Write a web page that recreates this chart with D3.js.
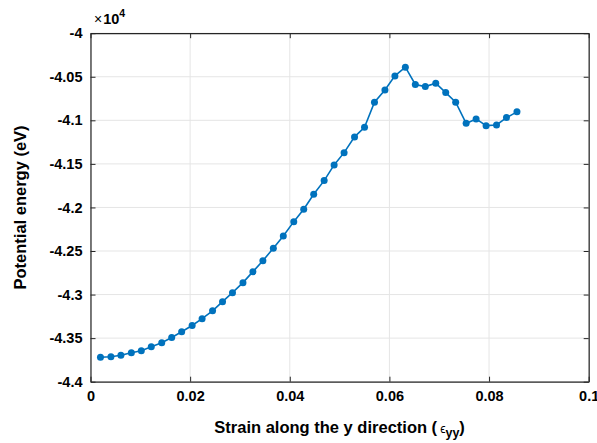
<!DOCTYPE html>
<html><head><meta charset="utf-8">
<script src="https://cdn.jsdelivr.net/npm/d3@7"></script>
<style>body{margin:0;background:#fff}svg{display:block}text{font-family:"Liberation Sans",Arial,sans-serif}</style>
</head><body><svg id="c" width="597" height="443"></svg>
<script>
const strain = [0.0020,0.0041,0.0061,0.0082,0.0102,0.0122,0.0143,0.0163,0.0183,0.0204,
0.0224,0.0245,0.0265,0.0285,0.0306,0.0326,0.0346,0.0367,0.0387,0.0408,
0.0428,0.0448,0.0469,0.0489,0.0509,0.0530,0.0550,0.0570,0.0591,0.0611,
0.0632,0.0652,0.0672,0.0693,0.0713,0.0733,0.0754,0.0774,0.0794,0.0815,
0.0835,0.0856];
const energy = [-43720,-43713,-43696,-43667,-43644,-43599,-43552,-43492,-43427,-43355,
-43277,-43186,-43081,-42978,-42863,-42737,-42611,-42468,-42327,-42163,
-42020,-41848,-41692,-41512,-41371,-41190,-41079,-40792,-40651,-40490,
-40390,-40588,-40613,-40574,-40682,-40792,-41035,-40984,-41061,-41053,
-40969,-40903];
const xTicks = [0,0.02,0.04,0.06,0.08,0.1];
const xTickLabels = ["0","0.02","0.04","0.06","0.08","0.1"];
const yTicks = [-40000,-40500,-41000,-41500,-42000,-42500,-43000,-43500,-44000];
const yTickLabels = ["-4","-4.05","-4.1","-4.15","-4.2","-4.25","-4.3","-4.35","-4.4"];

const L=90.5,R=588.7,T=33.2,B=381.7;
const svg=d3.select("#c");
const x=d3.scaleLinear().domain([0,0.1]).range([L,R]);
const y=d3.scaleLinear().domain([-44000,-40000]).range([B,T]);
const axisCol="#262626", gridCol="#e5e5e5", blue="#0072BD";

// grid
const g=svg.append("g");
g.selectAll(".gx").data(xTicks).enter().append("line")
 .attr("x1",d=>x(d)).attr("x2",d=>x(d)).attr("y1",T).attr("y2",B)
 .attr("stroke",gridCol).attr("stroke-width",1);
g.selectAll(".gy").data(yTicks).enter().append("line")
 .attr("y1",d=>y(d)).attr("y2",d=>y(d)).attr("x1",L).attr("x2",R)
 .attr("stroke",gridCol).attr("stroke-width",1);

// axes
const fmtX=d=>xTickLabels[xTicks.indexOf(d)];
const fmtY=d=>yTickLabels[yTicks.indexOf(d)];
const ax=svg.append("g").attr("transform",`translate(0,${B})`)
 .call(d3.axisBottom(x).tickValues(xTicks).tickFormat(fmtX).tickSizeInner(-5).tickSizeOuter(0).tickPadding(9));
const axT=svg.append("g").attr("transform",`translate(0,${T})`)
 .call(d3.axisTop(x).tickValues(xTicks).tickFormat("").tickSizeInner(-5).tickSizeOuter(0));
const ay=svg.append("g").attr("transform",`translate(${L},0)`)
 .call(d3.axisLeft(y).tickValues(yTicks).tickFormat(fmtY).tickSizeInner(-5).tickSizeOuter(0).tickPadding(8));
const ayR=svg.append("g").attr("transform",`translate(${R},0)`)
 .call(d3.axisRight(y).tickValues(yTicks).tickFormat("").tickSizeInner(-5).tickSizeOuter(0));
[ax,axT,ay,ayR].forEach(a=>{
  a.select(".domain").attr("stroke",axisCol).attr("stroke-width",1.2);
  a.selectAll(".tick line").attr("stroke",axisCol).attr("stroke-width",1);
  a.selectAll("text").attr("fill","#000").style("font-weight","bold").style("font-size","14.5px")
   .style("font-family","'Liberation Sans',Arial,sans-serif");
});

// line + markers
const pts=strain.map((s,i)=>[s,energy[i]]);
svg.append("path").datum(pts)
 .attr("d",d3.line().x(d=>x(d[0])).y(d=>y(d[1])))
 .attr("fill","none").attr("stroke",blue).attr("stroke-width",1.6);
svg.selectAll(".m").data(pts).enter().append("circle")
 .attr("cx",d=>x(d[0])).attr("cy",d=>y(d[1])).attr("r",3.5).attr("fill",blue);

// exponent
const ex=svg.append("text").attr("x",94).attr("y",24).style("font-size","14.5px").attr("fill","#000");
ex.append("tspan").text("\u00d7").style("font-weight","normal").style("font-size","14px");
ex.append("tspan").text("10").style("font-weight","bold").attr("dx",1);
ex.append("tspan").text("4").style("font-weight","bold").style("font-size","10.5px").attr("dy",-7);

// x label
const xl=svg.append("text").attr("x",(L+R)/2).attr("y",433.3).attr("text-anchor","middle")
 .style("font-size","16.5px").style("font-weight","bold").attr("fill","#000");
xl.append("tspan").text("Strain along the y direction (");
xl.append("tspan").text("\u03f5").style("font-weight","normal").style("font-size","12px").attr("dx",3);
xl.append("tspan").text("yy").style("font-size","12.5px").attr("dy",4);
xl.append("tspan").text(")").attr("dy",-4);

// y label
svg.append("text").attr("transform",`translate(26,${(T+B)/2}) rotate(-90)`)
 .attr("text-anchor","middle").style("font-size","16.5px").style("font-weight","bold").attr("fill","#000")
 .text("Potential energy (eV)");
</script></body></html>
